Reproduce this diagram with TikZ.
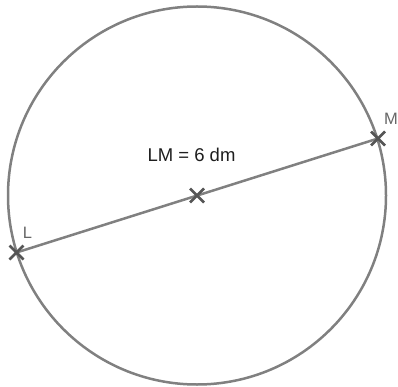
\documentclass[tikz,border=0pt]{standalone}
\usepackage{fontspec}
\setmainfont{Liberation Sans}
\usepackage{tikz}
\usetikzlibrary{shapes.misc}
\definecolor{linegray}{HTML}{808080}
\definecolor{crossgray}{HTML}{555555}
\definecolor{labelgray}{HTML}{666666}
\definecolor{textgray}{HTML}{1E1E1E}
\tikzstyle{rim} = [draw=linegray, line width=2.5pt]
\tikzstyle{chord} = [draw=linegray, line width=2.5pt]
\tikzstyle{ptcross} = [cross out, draw=crossgray, line width=2.5pt, minimum size=11.5pt, inner sep=0pt]
\tikzstyle{ptlabel} = [text=labelgray, font=\fontsize{16.5}{19}\selectfont, inner sep=0pt]
\tikzstyle{measure} = [text=textgray, font=\fontsize{18.5}{22}\selectfont, inner sep=0pt]

\begin{document}
\begin{tikzpicture}[x=1pt, y=-1pt]
\useasboundingbox (0, 0) rectangle (398, 387);
% centre and end points of the diameter
\coordinate (O) at (197, 195.5);
\coordinate (L) at (16.5, 252.5);
\coordinate (M) at (378, 138.5);
% circle
\draw[rim] (O) circle (189);
% diameter LM
\draw[chord] (L) -- (M);
% crosses
\node[ptcross] (Lx) at (L) {};
\node[ptcross] (Ox) at (O) {};
\node[ptcross] (Mx) at (M) {};
% labels
\node[ptlabel] (Llab) at (27.5, 233) {L};
\node[ptlabel] (Mlab) at (391, 118.5) {M};
\node[measure] (len) at (191.5, 154.5) {LM = 6 dm};
\end{tikzpicture}
\end{document}
